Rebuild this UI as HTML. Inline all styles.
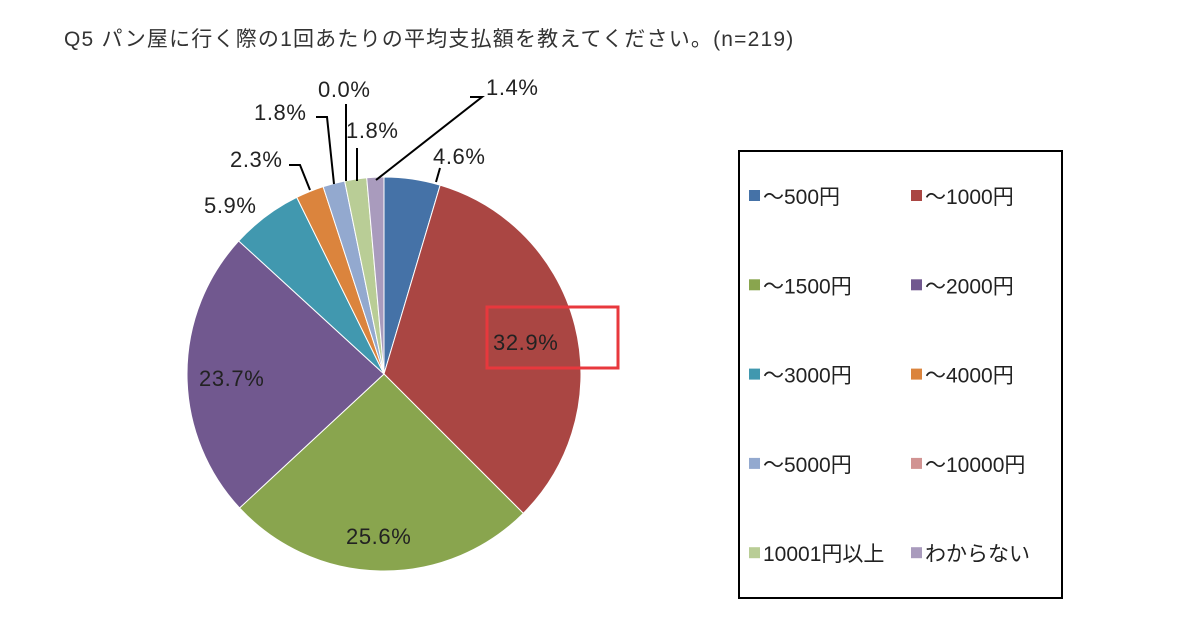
<!DOCTYPE html>
<html><head><meta charset="utf-8"><style>
html,body{margin:0;padding:0;background:#fff;}
svg text{font-family:"Liberation Sans","Noto Sans CJK JP",sans-serif;}
</style></head><body>
<svg id="s" width="1200" height="630" xmlns="http://www.w3.org/2000/svg">
<rect width="1200" height="630" fill="#fff"/>
<text x="64" y="46" font-size="21" letter-spacing="1.2" fill="#333">Q5 パン屋に行く際の1回あたりの平均支払額を教えてください。(n=219)</text>
<g id="pie"></g>
<g stroke="#000" stroke-width="2" fill="none">
<polyline points="440,168 436,182"/>
<polyline points="470,97 482,97 376,180"/>
<polyline points="357,148 357,181"/>
<polyline points="346,104 346,181"/>
<polyline points="316,117 327,117 334,184"/>
<polyline points="289,165 300,165 310,190"/>
</g>
<g font-size="22" letter-spacing="0.6" fill="#222">
<text x="433" y="164">4.6%</text>
<text x="486" y="95">1.4%</text>
<text x="346" y="138">1.8%</text>
<text x="318" y="97">0.0%</text>
<text x="254" y="120">1.8%</text>
<text x="230" y="167">2.3%</text>
<text x="204" y="213">5.9%</text>
<text x="493" y="350">32.9%</text>
<text x="346" y="544">25.6%</text>
<text x="199" y="386">23.7%</text>
</g>
<rect x="487" y="307" width="131" height="61" fill="none" stroke="#e8383d" stroke-width="3"/>
<rect x="739" y="151" width="323" height="447" fill="none" stroke="#000" stroke-width="2"/>
<g font-size="21" fill="#222" id="leg"></g>
</svg>
<script>
var vals=[4.6,32.9,25.6,23.7,5.9,2.3,1.8,0.0,1.8,1.4];
var cols=["#4572A7","#AA4643","#89A54E","#71588F","#4198AF","#DB843D","#93A9CF","#D19392","#B9CD96","#A99BBD"];
var cx=384,cy=374,r=197,a=-Math.PI/2,g=document.getElementById('pie'),h='';
for(var i=0;i<vals.length;i++){var d=vals[i]/100*2*Math.PI;if(d<=0)continue;var b=a+d;
var x1=cx+r*Math.cos(a),y1=cy+r*Math.sin(a),x2=cx+r*Math.cos(b),y2=cy+r*Math.sin(b);
h+='<path d="M'+cx+','+cy+' L'+x1+','+y1+' A'+r+','+r+' 0 '+(d>Math.PI?1:0)+' 1 '+x2+','+y2+' Z" fill="'+cols[i]+'" stroke="#fff" stroke-width="1"/>';a=b;}
g.innerHTML=h;
var names=["～500円","～1000円","～1500円","～2000円","～3000円","～4000円","～5000円","～10000円","10001円以上","わからない"];
var L='';for(var i=0;i<10;i++){var col=i%2,row=Math.floor(i/2);var x=col?911:749,y=196+row*89.3;
L+='<rect x="'+x+'" y="'+(y-6)+'" width="11" height="11" fill="'+cols[i]+'"/><text x="'+(x+14)+'" y="'+(y+8)+'">'+names[i]+'</text>';}
document.getElementById('leg').innerHTML=L;
</script>
</body></html>
